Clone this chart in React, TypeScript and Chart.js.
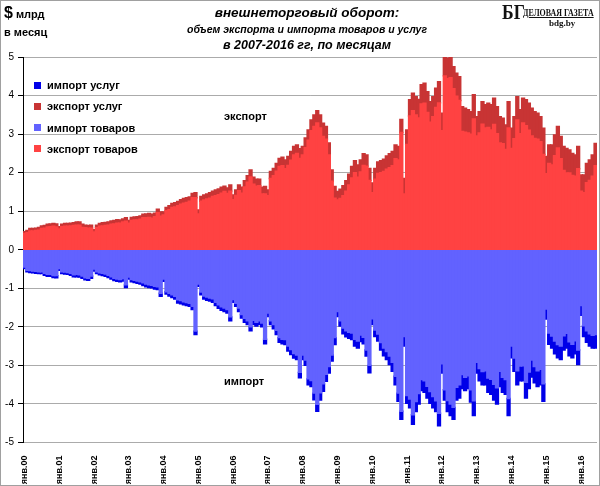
import React, { useEffect, useRef } from 'react';
import { Chart, registerables } from 'chart.js';

Chart.register(...registerables);

const years = ['00', '01', '02', '03', '04', '05', '06', '07', '08', '09', '10', '11', '12', '13', '14', '15', '16'];
const monthNames = ['янв', 'фев', 'мар', 'апр', 'май', 'июн', 'июл', 'авг', 'сен', 'окт', 'ноя', 'дек'];
const monthsInLastYear = 6;

const labels: string[] = years.flatMap((y, i) =>
  monthNames.slice(0, i === years.length - 1 ? monthsInLastYear : 12).map((m) => `${m}.${y}`)
);

// экспорт товаров, $ млрд в месяц
const exportGoods = [
  0.42, 0.44, 0.49, 0.49, 0.50, 0.51, 0.55, 0.56, 0.59, 0.60, 0.61, 0.59,
  0.54, 0.60, 0.61, 0.61, 0.62, 0.63, 0.64, 0.64, 0.58, 0.57, 0.56, 0.56,
  0.46, 0.57, 0.61, 0.62, 0.63, 0.64, 0.66, 0.67, 0.69, 0.69, 0.72, 0.74,
  0.69, 0.76, 0.77, 0.77, 0.79, 0.83, 0.83, 0.84, 0.82, 0.86, 0.96, 0.87,
  0.90, 1.01, 1.04, 1.10, 1.11, 1.14, 1.18, 1.21, 1.23, 1.26, 1.35, 1.35,
  0.93, 1.26, 1.29, 1.32, 1.34, 1.38, 1.40, 1.43, 1.47, 1.51, 1.46, 1.52,
  1.30, 1.41, 1.53, 1.47, 1.63, 1.75, 1.89, 1.70, 1.65, 1.66, 1.45, 1.45,
  1.40, 1.85, 1.92, 2.04, 2.16, 2.18, 2.10, 2.19, 2.32, 2.46, 2.50, 2.37,
  2.46, 2.65, 2.84, 3.09, 3.20, 3.29, 3.16, 2.94, 2.87, 2.46, 1.78, 1.34,
  1.29, 1.33, 1.40, 1.52, 1.68, 1.86, 2.00, 1.88, 2.02, 2.19, 2.17, 1.80,
  1.48, 1.83, 1.98, 2.00, 2.03, 2.09, 2.13, 2.18, 2.36, 2.33, 3.04, 1.45,
  2.73, 3.47, 3.61, 3.50, 3.42, 3.78, 3.80, 3.56, 3.31, 3.45, 3.69, 3.81,
  3.09, 4.51, 4.44, 4.46, 4.18, 3.98, 3.87, 3.07, 3.05, 3.03, 3.00, 3.39,
  2.95, 3.03, 3.26, 3.16, 3.17, 3.11, 3.25, 3.01, 2.77, 2.75, 2.60, 3.16,
  2.63, 2.88, 3.37, 3.01, 3.29, 3.22, 3.10, 2.95, 2.89, 2.87, 2.80, 2.47,
  1.97, 2.24, 2.20, 2.44, 2.64, 2.36, 2.06, 1.99, 1.99, 1.93, 1.91, 2.10,
  1.52, 1.48, 1.74, 1.80, 1.91, 2.18,
];

// экспорт услуг
const exportServices = [
  0.05, 0.06, 0.06, 0.06, 0.06, 0.07, 0.07, 0.07, 0.07, 0.07, 0.07, 0.08,
  0.06, 0.06, 0.07, 0.07, 0.07, 0.07, 0.08, 0.08, 0.08, 0.07, 0.07, 0.08,
  0.06, 0.07, 0.07, 0.08, 0.08, 0.08, 0.09, 0.09, 0.09, 0.08, 0.08, 0.09,
  0.07, 0.08, 0.08, 0.09, 0.09, 0.09, 0.10, 0.10, 0.10, 0.09, 0.09, 0.11,
  0.08, 0.09, 0.10, 0.10, 0.11, 0.11, 0.12, 0.12, 0.12, 0.11, 0.11, 0.13,
  0.10, 0.12, 0.13, 0.13, 0.14, 0.14, 0.15, 0.15, 0.15, 0.14, 0.14, 0.16,
  0.12, 0.14, 0.15, 0.15, 0.16, 0.17, 0.18, 0.18, 0.18, 0.17, 0.17, 0.19,
  0.15, 0.18, 0.19, 0.20, 0.21, 0.22, 0.23, 0.23, 0.23, 0.22, 0.22, 0.25,
  0.22, 0.25, 0.27, 0.28, 0.30, 0.32, 0.34, 0.34, 0.33, 0.31, 0.29, 0.30,
  0.22, 0.24, 0.26, 0.27, 0.28, 0.30, 0.31, 0.32, 0.31, 0.30, 0.29, 0.31,
  0.25, 0.28, 0.30, 0.31, 0.32, 0.34, 0.36, 0.37, 0.36, 0.35, 0.34, 0.40,
  0.38, 0.42, 0.45, 0.47, 0.48, 0.50, 0.52, 0.54, 0.53, 0.52, 0.50, 0.55,
  0.45, 0.50, 0.53, 0.55, 0.57, 0.60, 0.62, 0.64, 0.62, 0.60, 0.58, 0.63,
  0.50, 0.55, 0.58, 0.60, 0.63, 0.65, 0.68, 0.70, 0.68, 0.66, 0.64, 0.68,
  0.52, 0.57, 0.60, 0.62, 0.64, 0.67, 0.70, 0.72, 0.69, 0.67, 0.65, 0.68,
  0.45, 0.48, 0.52, 0.54, 0.56, 0.58, 0.62, 0.64, 0.60, 0.57, 0.55, 0.58,
  0.42, 0.46, 0.50, 0.53, 0.55, 0.58,
];

// импорт товаров (со знаком минус)
const importGoods = [
  -0.45, -0.53, -0.54, -0.55, -0.56, -0.57, -0.57, -0.61, -0.64, -0.64, -0.67, -0.67,
  -0.49, -0.57, -0.58, -0.59, -0.61, -0.65, -0.64, -0.65, -0.68, -0.73, -0.74, -0.68,
  -0.50, -0.57, -0.60, -0.61, -0.63, -0.66, -0.70, -0.74, -0.76, -0.77, -0.75, -0.91,
  -0.71, -0.77, -0.79, -0.81, -0.83, -0.86, -0.89, -0.91, -0.92, -0.95, -0.96, -1.13,
  -0.76, -1.09, -1.13, -1.17, -1.21, -1.30, -1.32, -1.35, -1.37, -1.39, -1.47, -2.11,
  -0.89, -1.10, -1.20, -1.23, -1.25, -1.27, -1.36, -1.43, -1.48, -1.51, -1.55, -1.74,
  -1.29, -1.39, -1.51, -1.68, -1.78, -1.84, -2.00, -1.83, -1.88, -1.84, -1.90, -2.32,
  -1.64, -1.84, -1.94, -2.09, -2.28, -2.32, -2.33, -2.50, -2.59, -2.69, -2.73, -3.18,
  -2.73, -2.86, -3.35, -3.39, -3.72, -4.01, -3.71, -3.48, -3.23, -3.03, -2.73, -2.28,
  -1.60, -1.84, -2.03, -2.10, -2.14, -2.16, -2.32, -2.37, -2.21, -2.27, -2.60, -3.00,
  -1.79, -2.08, -2.19, -2.41, -2.55, -2.64, -2.76, -2.92, -3.28, -3.72, -4.19, -2.25,
  -3.78, -3.87, -4.28, -3.94, -3.73, -3.37, -3.40, -3.54, -3.68, -3.81, -3.92, -4.24,
  -2.96, -3.63, -3.91, -4.00, -4.09, -3.57, -3.50, -3.24, -3.31, -3.27, -3.63, -3.92,
  -2.92, -3.08, -3.16, -3.14, -3.33, -3.36, -3.49, -3.58, -3.15, -3.31, -3.37, -3.86,
  -2.50, -2.81, -3.14, -3.02, -3.01, -3.44, -3.17, -2.86, -3.03, -3.14, -3.10, -3.48,
  -1.54, -2.16, -2.24, -2.37, -2.46, -2.50, -2.23, -2.17, -2.39, -2.45, -2.36, -2.60,
  -1.45, -1.97, -2.10, -2.18, -2.22, -2.20,
];

// импорт услуг (со знаком минус)
const importServices = [
  -0.04, -0.04, -0.05, -0.05, -0.05, -0.05, -0.05, -0.05, -0.05, -0.05, -0.05, -0.06,
  -0.04, -0.05, -0.05, -0.05, -0.05, -0.05, -0.06, -0.06, -0.06, -0.05, -0.05, -0.06,
  -0.05, -0.05, -0.05, -0.06, -0.06, -0.06, -0.06, -0.06, -0.06, -0.06, -0.06, -0.07,
  -0.05, -0.06, -0.06, -0.06, -0.06, -0.07, -0.07, -0.07, -0.07, -0.07, -0.07, -0.08,
  -0.06, -0.06, -0.07, -0.07, -0.07, -0.08, -0.08, -0.08, -0.08, -0.08, -0.08, -0.09,
  -0.06, -0.07, -0.08, -0.08, -0.08, -0.09, -0.09, -0.09, -0.09, -0.09, -0.09, -0.10,
  -0.07, -0.08, -0.09, -0.09, -0.10, -0.10, -0.10, -0.11, -0.10, -0.10, -0.10, -0.12,
  -0.09, -0.10, -0.11, -0.11, -0.12, -0.12, -0.13, -0.13, -0.13, -0.12, -0.12, -0.14,
  -0.12, -0.14, -0.15, -0.16, -0.17, -0.18, -0.19, -0.19, -0.18, -0.17, -0.16, -0.18,
  -0.13, -0.14, -0.15, -0.16, -0.16, -0.17, -0.18, -0.18, -0.17, -0.17, -0.16, -0.19,
  -0.15, -0.17, -0.18, -0.19, -0.20, -0.21, -0.22, -0.23, -0.22, -0.21, -0.21, -0.25,
  -0.20, -0.23, -0.25, -0.26, -0.27, -0.28, -0.30, -0.31, -0.30, -0.29, -0.28, -0.33,
  -0.24, -0.27, -0.29, -0.30, -0.31, -0.33, -0.35, -0.36, -0.34, -0.33, -0.32, -0.38,
  -0.28, -0.32, -0.34, -0.36, -0.37, -0.39, -0.41, -0.42, -0.40, -0.39, -0.38, -0.44,
  -0.30, -0.34, -0.36, -0.38, -0.39, -0.41, -0.43, -0.44, -0.42, -0.41, -0.40, -0.45,
  -0.26, -0.29, -0.31, -0.33, -0.34, -0.35, -0.37, -0.38, -0.36, -0.35, -0.34, -0.38,
  -0.25, -0.28, -0.30, -0.32, -0.33, -0.35,
];

const seriesNames = ['экспорт товаров', 'экспорт услуг', 'импорт товаров', 'импорт услуг'];
const seriesColors = ['#ff4242', '#c83434', '#6262ff', '#0000e8'];
const legendOrder = [3, 1, 2, 0];

const FONT = '"Liberation Sans", Arial, sans-serif';
const SERIF = '"Liberation Serif", "DejaVu Serif", serif';

export default function App() {
  const canvasRef = useRef<HTMLCanvasElement | null>(null);

  useEffect(() => {
    const canvas = canvasRef.current;
    if (!canvas) return;
    const seriesData = [exportGoods, exportServices, importGoods, importServices];
    const chart = new Chart(canvas, {
      type: 'bar',
      data: {
        labels,
        datasets: seriesNames.map((name, i) => ({
          label: name,
          data: seriesData[i],
          backgroundColor: seriesColors[i],
          borderWidth: 0,
          inflateAmount: 0.7,
          categoryPercentage: 1,
          barPercentage: 1,
        })),
      },
      options: {
        animation: false,
        responsive: false,
        devicePixelRatio: 1,
        layout: { padding: { top: 57, right: 3, left: 0, bottom: 0 } },
        plugins: { legend: { display: false }, tooltip: { enabled: false } },
        scales: {
          x: {
            stacked: true,
            grid: { display: false },
            border: { display: false },
            ticks: {
              autoSkip: false,
              minRotation: 90,
              maxRotation: 90,
              padding: 5,
              color: '#000',
              font: { family: FONT, size: 9, weight: 'bold' },
              callback: (_v: any, i: number) => (labels[i].startsWith('янв') ? labels[i] : ''),
            },
            afterFit: (scale: any) => {
              scale.height = 43.5;
              scale.paddingLeft = 0;
              scale.paddingRight = 0;
            },
          },
          y: {
            stacked: true,
            min: -5,
            max: 5,
            z: 1,
            ticks: {
              stepSize: 1,
              padding: 4,
              color: '#000',
              font: { family: FONT, size: 10 },
            },
            grid: {
              color: (ctx: any) => (ctx.tick && ctx.tick.value === 0 ? 'rgba(0,0,0,0.55)' : 'rgba(0,0,0,0.33)'),
              tickColor: '#000',
              tickLength: 5,
              lineWidth: 1,
            },
            border: { display: true, color: '#000', width: 1 },
            afterFit: (scale: any) => {
              scale.width = 23;
            },
          },
        },
      },
    });
    return () => chart.destroy();
  }, []);

  const bold11: React.CSSProperties = { fontFamily: FONT, fontWeight: 'bold', fontSize: 11, color: '#000' };

  return (
    <div
      style={{
        position: 'fixed',
        left: 0,
        top: 0,
        width: 600,
        height: 486,
        background: '#fff',
        border: '1px solid #a0a0a0',
        boxSizing: 'border-box',
        overflow: 'hidden',
      }}
    >
      <canvas
        ref={canvasRef}
        width={600}
        height={486}
        style={{ position: 'absolute', left: -1, top: -1, width: 600, height: 486 }}
      />
      <div style={{ position: 'absolute', left: 3, top: 3, ...bold11, whiteSpace: 'nowrap', lineHeight: '18px' }}>
        <span style={{ fontSize: 16 }}>$</span> <span>млрд</span>
      </div>
      <div style={{ position: 'absolute', left: 3, top: 25, ...bold11, whiteSpace: 'nowrap' }}>в месяц</div>

      <div
        style={{
          position: 'absolute',
          left: 106,
          width: 400,
          top: 3,
          textAlign: 'center',
          fontFamily: FONT,
          fontWeight: 'bold',
          fontStyle: 'italic',
          color: '#000',
          whiteSpace: 'nowrap',
        }}
      >
        <div style={{ fontSize: 13.5, lineHeight: '18px' }}>внешнеторговый оборот:</div>
        <div style={{ fontSize: 10.5, lineHeight: '15px' }}>объем экспорта и импорта товаров и услуг</div>
        <div style={{ fontSize: 12.5, lineHeight: '16px' }}>в 2007-2016 гг, по месяцам</div>
      </div>

      <div
        style={{
          position: 'absolute',
          left: 501,
          top: 0,
          fontFamily: SERIF,
          fontWeight: 'bold',
          fontSize: 22,
          lineHeight: '22px',
          color: '#111',
          transform: 'scaleX(0.8)',
          transformOrigin: 'left top',
        }}
      >
        БГ
      </div>
      <div
        style={{
          position: 'absolute',
          left: 522,
          top: 5,
          fontFamily: SERIF,
          fontWeight: 'bold',
          fontSize: 11,
          lineHeight: '13px',
          color: '#111',
          textDecoration: 'underline',
          whiteSpace: 'nowrap',
          transform: 'scaleX(0.72)',
          transformOrigin: 'left top',
        }}
      >
        ДЕЛОВАЯ ГАЗЕТА
      </div>
      <div
        style={{
          position: 'absolute',
          left: 548,
          top: 17,
          fontFamily: SERIF,
          fontWeight: 'bold',
          fontSize: 9,
          lineHeight: '10px',
          color: '#111',
        }}
      >
        bdg.by
      </div>

      {legendOrder.map((si, k) => (
        <div
          key={si}
          style={{ position: 'absolute', left: 33, top: 77 + k * 21.3, display: 'flex', alignItems: 'center', whiteSpace: 'nowrap' }}
        >
          <span style={{ display: 'inline-block', width: 7, height: 7, background: seriesColors[si], marginRight: 6 }} />
          <span style={{ ...bold11, lineHeight: '14px' }}>{seriesNames[si]}</span>
        </div>
      ))}

      <div style={{ position: 'absolute', left: 223, top: 109, ...bold11 }}>экспорт</div>
      <div style={{ position: 'absolute', left: 223, top: 374, ...bold11 }}>импорт</div>
    </div>
  );
}
